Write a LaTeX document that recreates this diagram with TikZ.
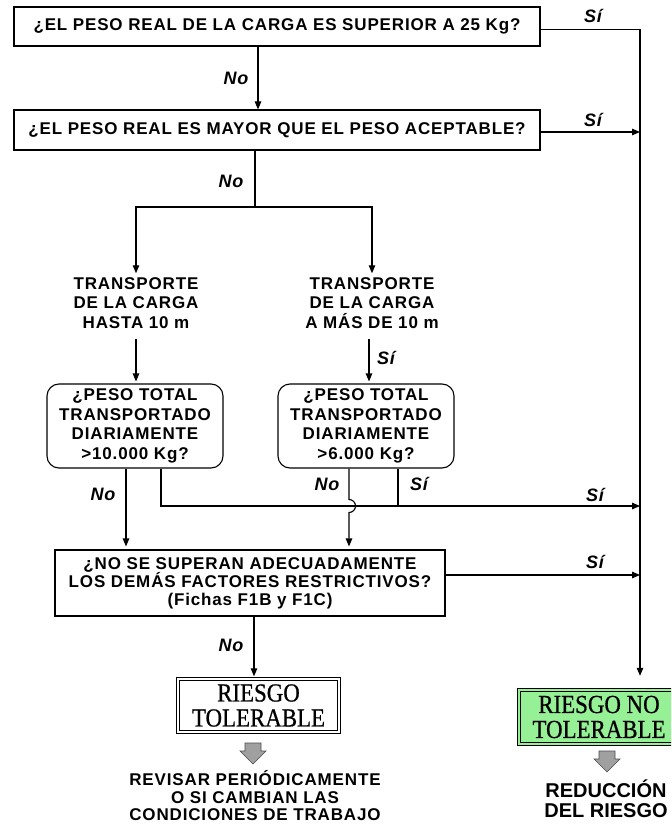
\documentclass[tikz,border=0pt]{standalone}
\usepackage{fontspec}
\usetikzlibrary{arrows.meta}
\newfontfamily\sansb{Liberation Sans}[LetterSpace=5]
\newfontfamily\sansp{Liberation Sans}
\newfontfamily\serifc{Liberation Serif}[FakeStretch=0.88,FakeBold=0.7]
\definecolor{nogreen}{RGB}{150,240,150}
\definecolor{blockgray}{RGB}{160,160,160}
\begin{document}
\begin{tikzpicture}[x=1pt,y=-1pt,
  conn/.style={line width=1.1pt},
  arr/.style={conn,-{Triangle[length=8pt,width=6.5pt]}},
  qbox/.style={draw,line width=1.1pt,inner sep=0pt,align=center,font=\sansb\bfseries\fontsize{17}{18}\selectfont},
  rbox/.style={draw,line width=1.1pt,rounded corners=12pt,inner sep=0pt,align=center,minimum width=176pt,minimum height=84pt,font=\sansb\bfseries\fontsize{17}{19.5}\selectfont},
  ttext/.style={inner sep=0pt,align=center,font=\sansb\bfseries\fontsize{17}{19.5}\selectfont},
  btext/.style={inner sep=0pt,align=center,font=\sansb\bfseries\fontsize{17}{17.5}\selectfont},
  lbl/.style={inner sep=0pt,font=\sansb\bfseries\itshape\fontsize{18}{20}\selectfont},
  rbx/.style={inner sep=0pt,align=center,font=\serifc\fontsize{26}{25}\selectfont},
  outerline/.style={line width=1.1pt},
  innerline/.style={line width=0.8pt},
  garrow/.pic={\filldraw[fill=blockgray,draw=gray!60!black,line width=0.6pt] (-8,0) -- (8,0) -- (8,8) -- (13,8) -- (0,21) -- (-13,8) -- (-8,8) -- cycle;}
]
\useasboundingbox (0,0) rectangle (671,826);
\clip (0,0) rectangle (671,826);
\fill[white] (0,0) rectangle (671,826);

% boxes and texts
\node[qbox,minimum width=526pt,minimum height=39pt] (q1) at (277,26.5) {¿EL PESO REAL DE LA CARGA ES SUPERIOR A 25 Kg?};
\node[qbox,minimum width=526pt,minimum height=40pt] (q2) at (277,130) {¿EL PESO REAL ES MAYOR QUE EL PESO ACEPTABLE?};
\node[ttext] (t1) at (136,303) {TRANSPORTE\\DE LA CARGA\\HASTA 10 m};
\node[ttext] (t2) at (372,303) {TRANSPORTE\\DE LA CARGA\\A MÁS DE 10 m};
\node[rbox] (r1) at (135,426) {¿PESO TOTAL\\TRANSPORTADO\\DIARIAMENTE\\>10.000 Kg?};
\node[rbox] (r2) at (366,426) {¿PESO TOTAL\\TRANSPORTADO\\DIARIAMENTE\\>6.000 Kg?};
\node[qbox,minimum width=390pt,minimum height=66pt] (q3) at (250,583) {¿NO SE SUPERAN ADECUADAMENTE\\LOS DEMÁS FACTORES RESTRICTIVOS?\\(Fichas F1B y F1C)};

% RIESGO TOLERABLE (double frame)
\node[rbx,minimum width=163pt,minimum height=56pt] (tol) at (258.5,705.5) {RIESGO\\TOLERABLE};
\draw[outerline] (tol.north west) rectangle (tol.south east);
\draw[innerline] ([shift={(3pt,-3pt)}]tol.north west) rectangle ([shift={(-3pt,3pt)}]tol.south east);

% RIESGO NO TOLERABLE (green double frame)
\fill[nogreen] (518,689) rectangle (680,745);
\node[rbx,minimum width=162pt,minimum height=56pt] (nt) at (599,717) {RIESGO NO\\TOLERABLE};
\draw[outerline] (nt.north west) rectangle (nt.south east);
\draw[innerline] ([shift={(3pt,-3pt)}]nt.north west) rectangle ([shift={(-3pt,3pt)}]nt.south east);

\node[btext] (b1) at (255,796) {REVISAR PERIÓDICAMENTE\\O SI CAMBIAN LAS\\CONDICIONES DE TRABAJO};
\node[inner sep=0pt,align=center,font=\sansp\bfseries\fontsize{20}{20}\selectfont] (b2) at (606,799) {REDUCCIÓN\\DEL RIESGO};
\pic at (253,743) {garrow};
\pic at (607,751) {garrow};

% labels
\node[lbl] (l1) at (593,16) {Sí};
\node[lbl] (l2) at (593,120) {Sí};
\node[lbl] (l3) at (236,78) {No};
\node[lbl] (l4) at (231,181) {No};
\node[lbl] (l5) at (386,358) {Sí};
\node[lbl] (l6) at (103,494) {No};
\node[lbl] (l7) at (327,484) {No};
\node[lbl] (l8) at (419,484) {Sí};
\node[lbl] (l9) at (595,495) {Sí};
\node[lbl] (l10) at (595,562) {Sí};
\node[lbl] (l11) at (231,645) {No};

% helper coordinates
\coordinate (rx) at (640,0);
\coordinate (sp) at (255,207);
\coordinate (h1) at (640,506);
\coordinate (jt) at (349,499.5);
\coordinate (r2in) at ([xshift=3pt]r2.north);

% connectors
\draw[arr,shorten >=13pt] ([yshift=-3pt]q1.east) -| (nt.north -| rx);
\draw[arr] ([xshift=-19pt]q1.south) -- ([xshift=-19pt]q1.south |- q2.north);
\draw[arr] ([yshift=-2pt]q2.east) -- ([yshift=-2pt]q2.east -| rx);
\draw[conn] ([xshift=-22pt]q2.south) -- (sp);
\draw[arr] (sp) -| ([yshift=4pt]t1.north);
\draw[arr] (sp) -| ([yshift=4pt]t2.north);
\draw[arr,shorten >=2pt] ([yshift=-10pt]t1.south) -- (t1.south |- r1.north);
\draw[arr,shorten >=2pt] ([yshift=-10pt]t2.south -| r2in) -- (r2in);
\draw[arr,shorten >=3pt] ([xshift=-9pt]r1.south) -- ([xshift=-9pt]r1.south |- q3.north);
\draw[arr] ([xshift=26pt]r1.south) |- (h1);
\draw[conn] ([xshift=32pt]r2.south) -- ([xshift=32pt]r2.south |- h1);
\draw[arr,shorten >=3pt] ([xshift=-17pt]r2.south) -- (jt) arc[start angle=90,end angle=-90,radius=6.5pt] -- (jt |- q3.north);
\draw[arr] ([yshift=8pt]q3.east) -- ([yshift=8pt]q3.east -| rx);
\draw[arr,shorten >=1pt] ([xshift=4pt]q3.south) -- ([xshift=4pt]q3.south |- tol.north);
\end{tikzpicture}
\end{document}
